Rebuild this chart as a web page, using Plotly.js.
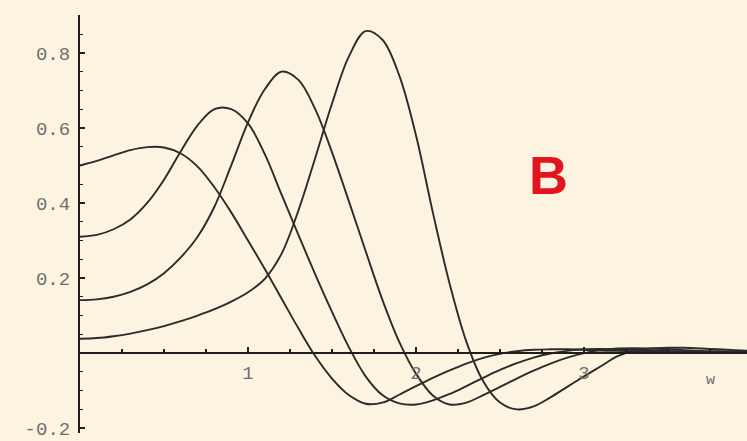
<!DOCTYPE html>
<html>
<head>
<meta charset="utf-8">
<script src="https://cdn.plot.ly/plotly-3.0.1.min.js"></script>
<style>
  html, body { margin: 0; padding: 0; background: #fcf4e1; }
  #plot { width: 747px; height: 441px; }
</style>
</head>
<body>
<div id="plot"></div>
<script>
// sample points along w
const w = [0.0, 0.1, 0.2, 0.3, 0.4, 0.5, 0.6, 0.7, 0.8, 0.9,
           1.0, 1.1, 1.2, 1.3, 1.4, 1.5, 1.6, 1.7, 1.8, 1.9,
           2.0, 2.1, 2.2, 2.3, 2.4, 2.5, 2.6, 2.7, 2.8, 2.9,
           3.0, 3.1, 3.2, 3.3, 3.4, 3.5, 3.6, 3.7, 3.8, 3.9, 4.0];

// four response curves
const curveA = [0.500, 0.512, 0.527, 0.541, 0.549, 0.548, 0.532, 0.497, 0.442, 0.375,
                0.300, 0.224, 0.145, 0.066, -0.008, -0.068, -0.112, -0.135, -0.132, -0.111,
                -0.088, -0.066, -0.046, -0.028, -0.013, -0.002, 0.005, 0.009, 0.010, 0.010,
                0.009, 0.007, 0.006, 0.005, 0.004, 0.003, 0.002, 0.002, 0.001, 0.001, 0.001];

const curveB = [0.310, 0.315, 0.330, 0.356, 0.400, 0.462, 0.538, 0.607, 0.650, 0.650,
                0.612, 0.530, 0.422, 0.315, 0.210, 0.110, 0.016, -0.062, -0.112, -0.134,
                -0.137, -0.126, -0.109, -0.088, -0.066, -0.045, -0.027, -0.012, -0.001, 0.006,
                0.010, 0.011, 0.010, 0.009, 0.007, 0.006, 0.004, 0.003, 0.002, 0.002, 0.001];

const curveC = [0.141, 0.143, 0.150, 0.163, 0.183, 0.213, 0.255, 0.310, 0.390, 0.500,
                0.615, 0.703, 0.750, 0.728, 0.650, 0.535, 0.405, 0.272, 0.142, 0.030,
                -0.055, -0.113, -0.137, -0.132, -0.112, -0.090, -0.068, -0.047, -0.028, -0.012,
                0.000, 0.008, 0.012, 0.013, 0.012, 0.010, 0.008, 0.006, 0.005, 0.004, 0.003];

const curveD = [0.038, 0.040, 0.045, 0.052, 0.061, 0.072, 0.085, 0.100, 0.117, 0.137,
                0.162, 0.198, 0.265, 0.380, 0.520, 0.665, 0.790, 0.858, 0.835, 0.740,
                0.580, 0.375, 0.185, 0.030, -0.075, -0.132, -0.150, -0.142, -0.118, -0.090,
                -0.062, -0.035, -0.008, 0.006, 0.012, 0.014, 0.014, 0.012, 0.010, 0.008, 0.006];

const xTickVals = [1, 2, 3];
const xTickText = ['1', '2', '3'];
const yTickVals = [-0.2, 0.2, 0.4, 0.6, 0.8];
const yTickText = ['-0.2', '0.2', '0.4', '0.6', '0.8'];

const xRange = [0, 3.97];
const yRange = [-0.213, 0.901];

const inkColor = '#2b2b2b';
const tickFont = { family: 'Liberation Mono, Courier New, monospace', size: 19, color: '#707070' };

const traces = [curveA, curveB, curveC, curveD].map(ys => ({
  x: w,
  y: ys,
  type: 'scatter',
  mode: 'lines',
  line: { color: inkColor, width: 1.9, shape: 'spline', smoothing: 1 },
  hoverinfo: 'skip',
  showlegend: false
}));

// horizontal axis sits at y = 0
const zeroPos = (0 - yRange[0]) / (yRange[1] - yRange[0]);

const layout = {
  width: 747,
  height: 441,
  margin: { l: 80, r: 0, t: 15, b: 8 },
  paper_bgcolor: '#fcf4e1',
  plot_bgcolor: '#fcf4e1',
  showlegend: false,
  xaxis: {
    range: xRange,
    anchor: 'free',
    position: zeroPos,
    showgrid: false,
    zeroline: false,
    showline: true,
    linecolor: '#1e1e1e',
    linewidth: 2,
    tickmode: 'array',
    tickvals: xTickVals,
    ticktext: xTickText,
    ticks: 'inside',
    ticklen: 5,
    tickwidth: 1.5,
    tickcolor: '#1e1e1e',
    tickfont: tickFont,
    ticklabelstandoff: 2,
    minor: { tickmode: 'linear', tick0: 0, dtick: 0.25, ticks: 'inside', ticklen: 3, tickwidth: 1.2, tickcolor: '#1e1e1e' }
  },
  yaxis: {
    range: yRange,
    showgrid: false,
    zeroline: false,
    showline: true,
    linecolor: '#1e1e1e',
    linewidth: 2,
    tickmode: 'array',
    tickvals: yTickVals,
    ticktext: yTickText,
    ticks: 'inside',
    ticklen: 5,
    tickwidth: 1.5,
    tickcolor: '#1e1e1e',
    tickfont: tickFont,
    ticklabelstandoff: 4,
    ticklabeloverflow: 'allow',
    minor: { tickmode: 'linear', tick0: 0, dtick: 0.05, ticks: 'inside', ticklen: 3, tickwidth: 1.2, tickcolor: '#1e1e1e' }
  },
  annotations: [
    {
      x: 3.75, y: -0.072, xref: 'x', yref: 'y',
      text: 'w', showarrow: false,
      font: { family: 'Liberation Mono, Courier New, monospace', size: 15, color: '#6e6e6e' }
    },
    {
      x: 2.79, y: 0.475, xref: 'x', yref: 'y',
      text: '<b>B</b>', showarrow: false,
      font: { family: 'Liberation Sans, Arial, sans-serif', size: 54, color: '#e3141b' }
    }
  ]
};

Plotly.newPlot('plot', traces, layout, { staticPlot: true, displayModeBar: false });
</script>
</body>
</html>
